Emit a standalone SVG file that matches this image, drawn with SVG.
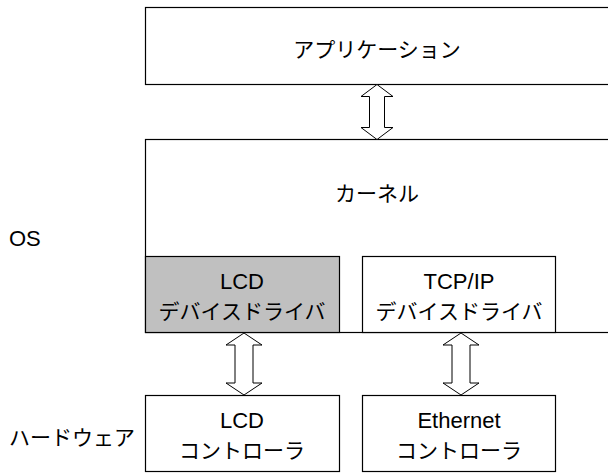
<svg xmlns="http://www.w3.org/2000/svg" width="608" height="473" viewBox="0 0 608 473">
<style>
.box{fill:#fff;stroke:#000;stroke-width:1.2}
.grey{fill:#c0c0c0;stroke:#000;stroke-width:1.2}
.arr{fill:#fff;stroke:#000;stroke-width:1}
text{font-family:"Liberation Sans","Noto Sans CJK JP",sans-serif;font-size:21px;fill:#000}
.c{text-anchor:middle}
.lat{font-size:22px}
</style>
<rect x="0" y="0" width="608" height="473" fill="#fff"/>
<g id="application">
<rect class="box" x="145.5" y="7.5" width="470" height="77"/>
<text class="c" x="377" y="57">アプリケーション</text>
</g>
<g id="kernel">
<rect class="box" x="145.5" y="139.5" width="470" height="193"/>
<text class="c" x="377" y="201">カーネル</text>
</g>
<g id="lcd-driver">
<rect class="grey" x="145.5" y="256.5" width="194" height="76"/>
<text class="c lat" x="242" y="289">LCD</text>
<text class="c" x="242" y="319">デバイスドライバ</text>
</g>
<g id="tcpip-driver">
<rect class="box" x="362.5" y="256.5" width="193" height="76"/>
<text class="c lat" x="459" y="289">TCP/IP</text>
<text class="c" x="459" y="319">デバイスドライバ</text>
</g>
<g id="lcd-controller">
<rect class="box" x="145.5" y="395.5" width="194" height="76"/>
<text class="c lat" x="242" y="428">LCD</text>
<text class="c" x="242" y="458">コントローラ</text>
</g>
<g id="ethernet-controller">
<rect class="box" x="362.5" y="395.5" width="193" height="76"/>
<text class="c lat" x="459" y="428">Ethernet</text>
<text class="c" x="459" y="458">コントローラ</text>
</g>
<g id="label-os">
<text x="9" y="246" class="lat">OS</text>
</g>
<g id="label-hw">
<text x="9" y="445">ハードウェア</text>
</g>
<g id="connectors">
<path class="arr" d="M377,84.5 L393,96.5 L384.5,96.5 L384.5,127.5 L393,127.5 L377,139.5 L361,127.5 L369.5,127.5 L369.5,96.5 L361,96.5 Z"/>
<path class="arr" d="M244,333 L262,345 L253,345 L253,383 L262,383 L244,395 L226,383 L235,383 L235,345 L226,345 Z"/>
<path class="arr" d="M461,333 L479,345 L470,345 L470,383 L479,383 L461,395 L443,383 L452,383 L452,345 L443,345 Z"/>
</g>
</svg>
